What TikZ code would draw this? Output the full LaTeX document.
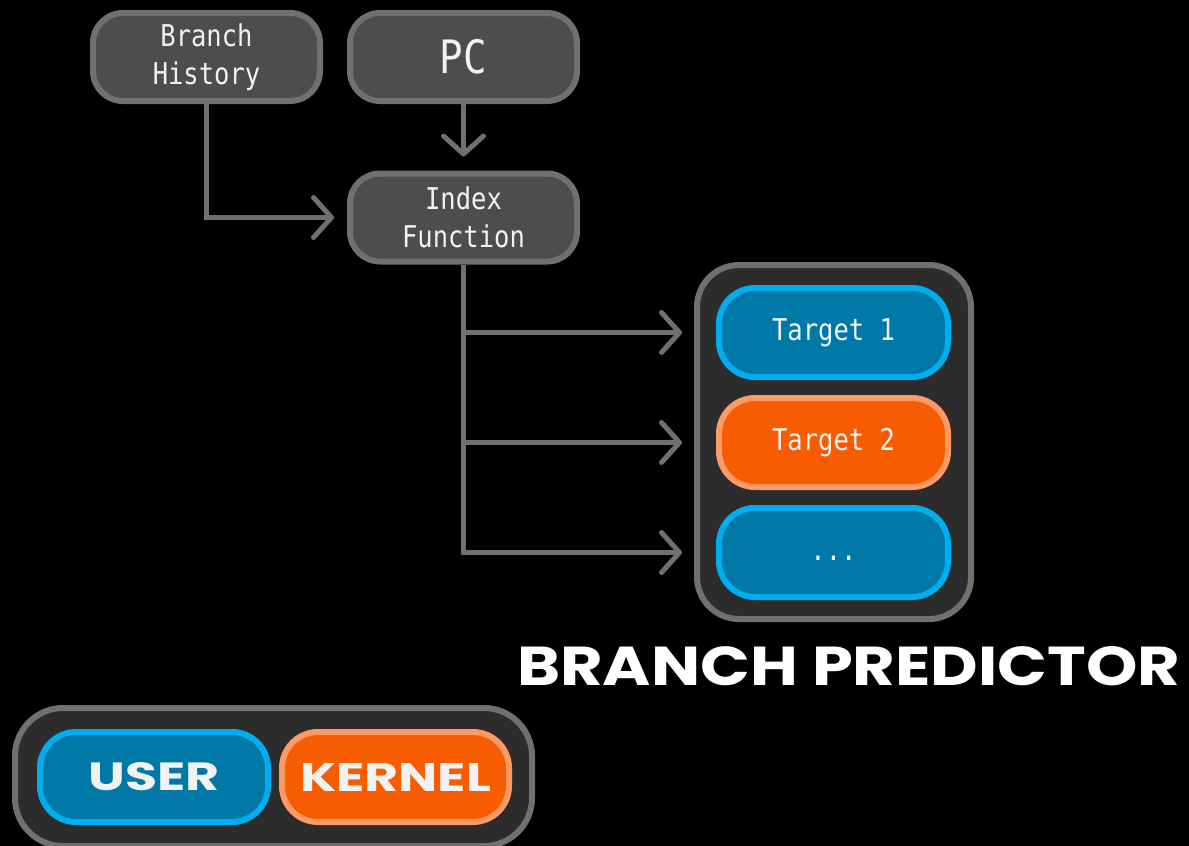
\documentclass[tikz,border=0pt]{standalone}
\usepackage{fontspec}
\usetikzlibrary{arrows.meta,calc}
\newfontfamily\monof[FakeStretch=0.85]{DejaVu Sans Mono}
\newfontfamily\popf{Poppins}
\definecolor{bordergray}{HTML}{707070}
\definecolor{boxgray}{HTML}{4D4D4D}
\definecolor{panelgray}{HTML}{2C2C2C}
\definecolor{bluefill}{HTML}{0079A8}
\definecolor{blueline}{HTML}{00AEEF}
\definecolor{orangefill}{HTML}{F85C00}
\definecolor{orangeline}{HTML}{FF9A66}
\definecolor{txt}{HTML}{F2F2F2}
\begin{document}
\begin{tikzpicture}[x=1pt,y=-1pt,
  graybox/.style={draw=bordergray,fill=boxgray,line width=6pt,rounded corners=30pt,
    minimum width=227pt,minimum height=88pt,inner sep=0pt,align=center,
    text=txt,font=\monof\fontsize{30}{38}\selectfont},
  panel/.style={draw=bordergray,fill=panelgray,line width=6pt,rounded corners=42pt,inner sep=0pt},
  bluebox/.style={draw=blueline,fill=bluefill,line width=6pt,rounded corners=36pt,
    minimum width=229pt,minimum height=89pt,inner sep=0pt,text=txt,
    font=\monof\fontsize{30}{38}\selectfont},
  orangebox/.style={bluebox,draw=orangeline,fill=orangefill},
  conn/.style={draw=bordergray,line width=5pt,
    -{Straight Barb[length=18pt,width=40pt,line cap=round,line join=round]}},
]
\useasboundingbox[fill=black] (0,0) rectangle (1189,846);

% top boxes
\node[graybox] (bh) at (206.5,57) {Branch\\History};
\node[graybox,font=\monof\fontsize{46}{50}\selectfont] (pc) at (463.5,57) {PC};
\node[graybox] (idx) at (463.5,217.5) {Index\\Function};

% predictor panel
\node[panel,minimum width=274pt,minimum height=354pt] (pred) at (834,442) {};
\node[bluebox] (t1) at (833.5,332.5) {Target 1};
\node[orangebox] (t2) at (833.5,442.5) {Target 2};
\node[bluebox] (t3) at (833.5,552.5) {\vphantom{Tg}...};
\node[anchor=south west,inner sep=0pt,text=white] (title) at (517,686)
  {\resizebox{663pt}{39pt}{\popf\bfseries BRANCH PREDICTOR}};

% connectors
\draw[conn] (bh.south) |- ([xshift=-13pt]idx.west);
\draw[conn] (pc.south) -- ([yshift=14pt]idx.north);
\coordinate (px) at ([xshift=-12pt]pred.west);
\draw[conn] (idx.south) |- (px |- t1);
\draw[conn] (idx.south) |- (px |- t2);
\draw[conn] (idx.south) |- (px |- t3);

% legend
\node[panel,minimum width=517pt,minimum height=138pt,rounded corners=48pt] (leg) at (273.5,777) {};
\node[bluebox,minimum width=228pt,minimum height=90pt,rounded corners=36pt] (user) at (154,777)
  {\resizebox{131pt}{28pt}{\popf\bfseries USER}};
\node[orangebox,minimum width=227pt,minimum height=90pt,rounded corners=36pt] (kernel) at (395.5,777)
  {\resizebox{191pt}{28pt}{\popf\bfseries KERNEL}};
\end{tikzpicture}
\end{document}
